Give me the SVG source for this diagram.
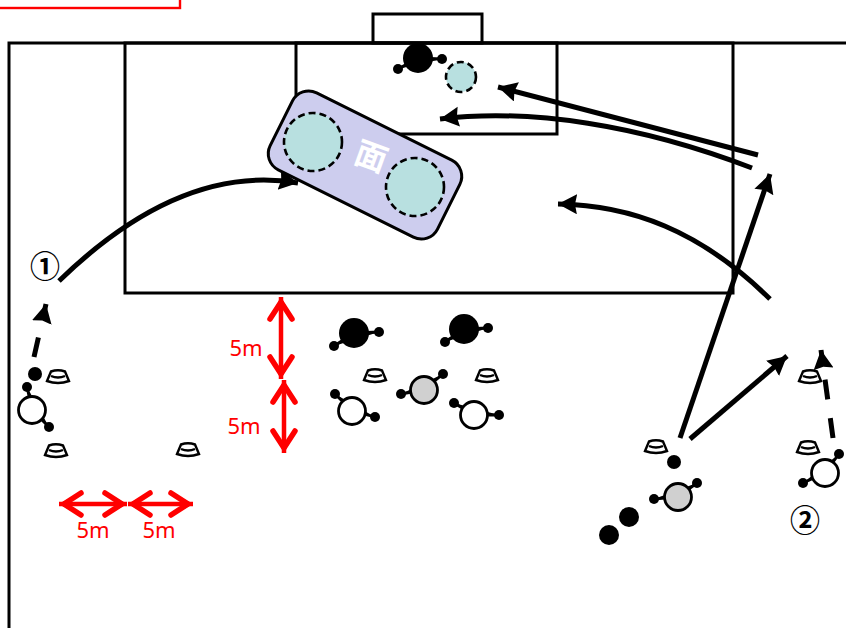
<svg xmlns="http://www.w3.org/2000/svg" width="846" height="628" viewBox="0 0 846 628">
<style>
.f{fill:none;stroke:#000;stroke-width:3}
.a{fill:none;stroke:#000;stroke-width:5;marker-end:url(#h)}
.d{stroke-dasharray:20 19}
.r{fill:none;stroke:#f00;stroke-width:4.500;marker-start:url(#c);marker-end:url(#c)}
.rt{font:22px "Noto Sans","DejaVu Sans",sans-serif;fill:#f00;text-anchor:middle}
.n{font:700 30px "Noto Sans CJK JP","DejaVu Sans",sans-serif;fill:#000;text-anchor:middle}
.z{fill:#b8e0e0;stroke:#000;stroke-width:2.600;stroke-dasharray:7 4}
.arm{stroke:#000;stroke-width:2.800}
.w{fill:#fff;stroke:#000;stroke-width:2.800}
.g{fill:#d0d0d0;stroke:#000;stroke-width:2.800}
.b{fill:#000}
.cone{fill:#fff;stroke:#000;stroke-width:2.400}
</style>
<defs>
<marker id="h" markerUnits="userSpaceOnUse" markerWidth="22" markerHeight="22" refX="19" refY="10" orient="auto"><path d="M0 0L19 10L0 20L2 10Z" fill="#000"/></marker>
<marker id="c" markerUnits="userSpaceOnUse" markerWidth="28" markerHeight="30" refX="25" refY="15" orient="auto-start-reverse"><path d="M3 4L20 15L3 26" fill="none" stroke="#f00" stroke-width="5.500" stroke-linecap="round"/><path d="M14 9L25 15L14 21Z" fill="#f00"/></marker>
<g id="cone"><path class="cone" d="M-7-5.500Q0-8 7-5.500L11 4Q0 8-11 4Z"/><path class="cone" d="M-7-1Q0 2 7-1" fill="none"/></g>
</defs>

<rect id="label-box" x="-2" y="-6" width="182" height="14" fill="#fff" stroke="#f00" stroke-width="2.400"/>
<g id="field">
<path class="f" d="M9 628V43H846"/>
<rect class="f" x="125" y="43" width="608" height="250"/>
<rect class="f" x="296" y="43" width="261" height="91"/>
<rect class="f" x="373" y="14" width="109" height="29"/>
</g>

<g id="connectors">
<path class="a" d="M59 281C130 212 210 168 298 183"/>
<path class="a" d="M770 299C700 230 630 205 558 204"/>
<path class="a" d="M758 155L498 87"/>
<path class="a" d="M752 168C640 125 530 108 440 119"/>
<path class="a" d="M680 438L770 174"/>
<path class="a" d="M690 439L787 356"/>
<path class="a d" d="M34 357L46 304"/>
<path class="a d" d="M833 438L821 350"/>
<path class="r" d="M59 504H127"/>
<path class="r" d="M128 504H193"/>
<path class="r" d="M281 297V379"/>
<path class="r" d="M284 380V453"/>
</g>

<g id="zone">
<rect x="271.500" y="122" width="187" height="86" rx="18" transform="rotate(26.500 365 165)" fill="#cdcdee" stroke="#000" stroke-width="3"/>
<circle class="z" cx="313" cy="142" r="29"/>
<circle class="z" cx="415" cy="187" r="29"/>
<text x="371" y="168" transform="rotate(20 371 157)" font-family="'Noto Sans CJK JP',sans-serif" font-weight="700" font-size="32" fill="#fff" text-anchor="middle">面</text>
</g>
<circle id="target" class="z" cx="461" cy="77" r="15"/>

<g id="p-goalie"><path class="arm" d="M398 69L418 58L442 59"/><circle class="b" cx="418" cy="58" r="15"/><circle class="b" cx="398" cy="69" r="5"/><circle class="b" cx="442" cy="59" r="5"/></g>
<g id="p-black1"><path class="arm" d="M334 346L354 333L379 332"/><circle class="b" cx="354" cy="333" r="15"/><circle class="b" cx="334" cy="346" r="5"/><circle class="b" cx="379" cy="332" r="5"/></g>
<g id="p-black2"><path class="arm" d="M445 342L464 329L488 328"/><circle class="b" cx="464" cy="329" r="15"/><circle class="b" cx="445" cy="342" r="5"/><circle class="b" cx="488" cy="328" r="5"/></g>
<g id="p-white1"><path class="arm" d="M335 394L352 411L375 417"/><circle class="w" cx="352" cy="411" r="13.500"/><circle class="b" cx="335" cy="394" r="5"/><circle class="b" cx="375" cy="417" r="5"/></g>
<g id="p-gray1"><path class="arm" d="M401 394L424 390L443 374"/><circle class="g" cx="424" cy="390" r="13.500"/><circle class="b" cx="401" cy="394" r="5"/><circle class="b" cx="443" cy="374" r="5"/></g>
<g id="p-white2"><path class="arm" d="M454 403L474 415L499 415"/><circle class="w" cx="474" cy="415" r="13.500"/><circle class="b" cx="454" cy="403" r="5"/><circle class="b" cx="499" cy="415" r="5"/></g>
<g id="p-left"><path class="arm" d="M27 387L32 410L49 427"/><circle class="w" cx="32" cy="410" r="13.500"/><circle class="b" cx="27" cy="387" r="5"/><circle class="b" cx="49" cy="427" r="5"/></g>
<g id="p-gray2"><path class="arm" d="M654 499L678 497L697 483"/><circle class="g" cx="678" cy="497" r="13.500"/><circle class="b" cx="654" cy="499" r="5"/><circle class="b" cx="697" cy="483" r="5"/></g>
<g id="p-right"><path class="arm" d="M803 483L825 473L839 454"/><circle class="w" cx="825" cy="473" r="13.500"/><circle class="b" cx="803" cy="483" r="5"/><circle class="b" cx="839" cy="454" r="5"/></g>

<g id="balls">
<circle class="b" cx="35" cy="374" r="7"/>
<circle class="b" cx="674" cy="462" r="7"/>
<circle class="b" cx="629" cy="517" r="10"/>
<circle class="b" cx="609" cy="535" r="10"/>
</g>

<g id="cones">
<use href="#cone" x="58" y="377"/>
<use href="#cone" x="56" y="451"/>
<use href="#cone" x="188" y="450"/>
<use href="#cone" x="375" y="376"/>
<use href="#cone" x="487" y="376"/>
<use href="#cone" x="656" y="447"/>
<use href="#cone" x="810" y="377"/>
<use href="#cone" x="808" y="448"/>
</g>

<g id="labels">
<text class="n" x="45" y="277">①</text>
<text class="n" x="805" y="531">②</text>
<text class="rt" x="246" y="356">5m</text>
<text class="rt" x="244" y="434">5m</text>
<text class="rt" x="93" y="538">5m</text>
<text class="rt" x="159" y="538">5m</text>
</g>
</svg>
